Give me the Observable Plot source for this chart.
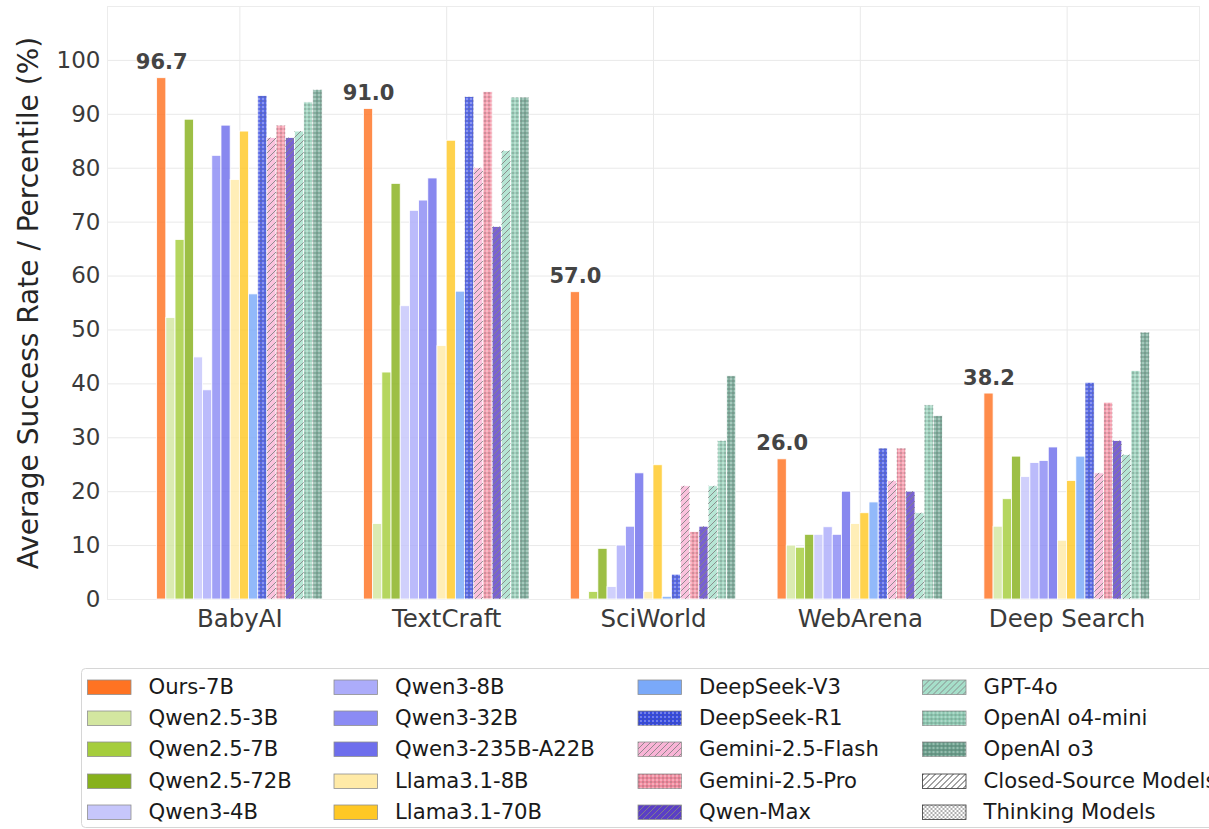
<!DOCTYPE html>
<html>
<head>
<meta charset="utf-8">
<script src="https://cdn.jsdelivr.net/npm/d3@7"></script>
<script src="https://cdn.jsdelivr.net/npm/@observablehq/plot@0.6"></script>
<style>
  html, body { margin: 0; padding: 0; background: #fff; overflow: hidden; }
  body { width: 1209px; height: 829px; position: relative; font-family: "DejaVu Sans", sans-serif; }
  #chart { position: absolute; left: 0; top: 0; }
  #legend { position: absolute; left: 81px; top: 668px; }
</style>
</head>
<body>
<div id="chart"></div>
<div id="legend"></div>
<script>
// Benchmarks (x groups) and models (bars within each group)
const tasks = ["BabyAI", "TextCraft", "SciWorld", "WebArena", "Deep Search"];
const models = [
  "Ours-7B", "Qwen2.5-3B", "Qwen2.5-7B", "Qwen2.5-72B",
  "Qwen3-4B", "Qwen3-8B", "Qwen3-32B", "Qwen3-235B-A22B",
  "Llama3.1-8B", "Llama3.1-70B", "DeepSeek-V3", "DeepSeek-R1",
  "Gemini-2.5-Flash", "Gemini-2.5-Pro", "Qwen-Max",
  "GPT-4o", "OpenAI o4-mini", "OpenAI o3"
];
const colors = [
  "#ff7322", "#d3e6a0", "#a5cd3c", "#87b11c",
  "#c6c6fb", "#acacfa", "#8b8bf4", "#6e6eec",
  "#ffeaa7", "#ffc825", "#7aa9f9", "#3549e0",
  "#f9b4d6", "#f08a9e", "#5b3fc6",
  "#a6dfca", "#8cc8b1", "#689d8a"
];
const closedSource = ["Gemini-2.5-Flash", "Qwen-Max", "GPT-4o"];
const thinking = ["DeepSeek-R1", "Gemini-2.5-Pro", "OpenAI o4-mini", "OpenAI o3"];

// Scores per benchmark, one value per model (same order as `models`)
const babyai     = [96.7, 52.2, 66.7, 89.0, 44.9, 38.8, 82.3, 87.9, 77.8, 86.8, 56.6, 93.4, 85.6, 87.9, 85.6, 86.8, 92.2, 94.5];
const textcraft  = [91.0, 14.0, 42.1, 77.1, 54.4, 72.1, 74.0, 78.1, 47.0, 85.1, 57.1, 93.2, 80.0, 94.1, 69.1, 83.2, 93.1, 93.1];
const sciworld   = [57.0, 0.0, 1.4, 9.4, 2.3, 10.0, 13.5, 23.4, 1.4, 24.9, 0.5, 4.6, 21.0, 12.5, 13.5, 21.0, 29.4, 41.4];
const webarena   = [26.0, 10.0, 9.6, 12.0, 12.0, 13.4, 12.0, 20.0, 14.0, 16.0, 18.0, 28.0, 22.0, 28.0, 20.0, 16.0, 36.0, 34.0];
const deepSearch = [38.2, 13.5, 18.6, 26.5, 22.7, 25.3, 25.7, 28.2, 10.9, 22.0, 26.5, 40.2, 23.4, 36.5, 29.4, 26.8, 42.4, 49.5];

const yTicks = [0, 10, 20, 30, 40, 50, 60, 70, 80, 90, 100];
const yLabel = "Average Success Rate / Percentile (%)";

// Long-format rows; each group spans 0.8 of a unit around its index
const scores = [babyai, textcraft, sciworld, webarena, deepSearch];
const groupWidth = 0.8;
const barW = groupWidth / models.length;
const rows = [];
models.forEach((model, mi) => {
  tasks.forEach((task, ti) => {
    const x1 = ti - groupWidth / 2 + mi * barW;
    rows.push({task, model, value: scores[ti][mi], x1, x2: x1 + barW, xc: x1 + barW / 2});
  });
});
const closedRows = rows.filter(d => closedSource.includes(d.model));
const thinkingRows = rows.filter(d => thinking.includes(d.model));
const oursRows = rows.filter(d => d.model === "Ours-7B");

const chart = Plot.plot({
  width: 1209,
  height: 662,
  marginLeft: 107,
  marginRight: 10,
  marginTop: 6,
  marginBottom: 63,
  style: {fontFamily: "'DejaVu Sans', sans-serif", background: "#fff"},
  x: {domain: [-0.64, tasks.length - 1 + 0.64], axis: null},
  y: {domain: [0, 110], axis: null},
  color: {domain: models, range: colors},
  marks: [
    Plot.gridY(yTicks, {stroke: "#e9e9e9", strokeOpacity: 1, strokeWidth: 1}),
    Plot.gridX(d3.range(tasks.length), {stroke: "#e9e9e9", strokeOpacity: 1, strokeWidth: 1}),
    Plot.frame({stroke: "#ececec"}),
    Plot.rect(rows, {x1: "x1", x2: "x2", y1: 0, y2: "value", fill: "model", fillOpacity: 0.82, stroke: "#fff", strokeWidth: 0.8}),
    Plot.rect(closedRows, {x1: "x1", x2: "x2", y1: 0, y2: "value", fill: "url(#hatch)"}),
    Plot.rect(thinkingRows, {x1: "x1", x2: "x2", y1: 0, y2: "value", fill: "url(#dots)"}),
    Plot.axisY(yTicks, {tickSize: 0, tickPadding: 7, fontSize: 23, color: "#3a3a3a", label: null}),
    Plot.axisX(d3.range(tasks.length), {tickSize: 0, tickPadding: 10, fontSize: 24.5, color: "#3a3a3a", tickFormat: i => tasks[i], label: null}),
    Plot.text(oursRows, {x: "xc", y: "value", text: d => d.value.toFixed(1), dy: -9, lineAnchor: "bottom", fontWeight: "bold", fontSize: 21, fill: "#444"}),
    Plot.text([yLabel], {frameAnchor: "left", rotate: -90, dx: -78, textAnchor: "middle", fontSize: 28, fill: "#262626"})
  ]
});

// Fill patterns for closed-source (hatch) and thinking (dots) models
const defs = d3.select(chart).insert("defs", ":first-child");
function addPatterns(prefix, stroke, dotFill, dotOpacity, lightDots) {
  const h = defs.append("pattern").attr("id", prefix + "hatch")
    .attr("patternUnits", "userSpaceOnUse").attr("width", 6).attr("height", 6);
  h.append("path").attr("d", "M-1,1 l2,-2 M0,6 l6,-6 M5,7 l2,-2")
    .attr("stroke", stroke).attr("stroke-width", 0.9).attr("fill", "none");
  const p = defs.append("pattern").attr("id", prefix + "dots")
    .attr("patternUnits", "userSpaceOnUse").attr("width", 4).attr("height", 4);
  p.append("circle").attr("cx", 1).attr("cy", 1).attr("r", 0.75).attr("fill", dotFill).attr("fill-opacity", dotOpacity);
  if (lightDots) {
    p.append("circle").attr("cx", 3).attr("cy", 3).attr("r", 0.75).attr("fill", "#fff").attr("fill-opacity", 0.75);
  } else {
    p.append("circle").attr("cx", 3).attr("cy", 3).attr("r", 0.75).attr("fill", dotFill).attr("fill-opacity", dotOpacity);
  }
}
addPatterns("", "#858585", "#555", 0.6, true);
addPatterns("legend-", "#333", "#333", 1, false);

document.getElementById("chart").appendChild(chart);

// Legend: 4 columns x 5 rows
const lg = d3.select("#legend").append("svg")
  .attr("width", 1140).attr("height", 161)
  .style("font-family", "'DejaVu Sans', sans-serif");
lg.append("rect").attr("x", 0.5).attr("y", 0.5).attr("width", 1138).attr("height", 159)
  .attr("rx", 4).attr("fill", "#fff").attr("stroke", "#d6d6d6");

const legendItems = models.map((m, i) => ({
  label: m,
  color: colors[i],
  pattern: closedSource.includes(m) ? "hatch" : thinking.includes(m) ? "dots" : null,
  extra: false
})).concat([
  {label: "Closed-Source Models", color: "#fff", pattern: "legend-hatch", extra: true},
  {label: "Thinking Models", color: "#fff", pattern: "legend-dots", extra: true}
]);
const colX = [6.5, 253, 557, 841.5];
const rowY = [19, 50, 81, 113, 144];
legendItems.forEach((d, i) => {
  const col = Math.floor(i / 5), row = i % 5;
  const g = lg.append("g").attr("transform", `translate(${colX[col]},${rowY[row]})`);
  g.append("rect").attr("x", 0).attr("y", -7).attr("width", 43.5).attr("height", 14.5)
    .attr("fill", d.color).attr("stroke", d.extra ? "#333" : "#8f8f8f").attr("stroke-width", 0.8);
  if (d.pattern) {
    g.append("rect").attr("x", 0).attr("y", -7).attr("width", 43.5).attr("height", 14.5)
      .attr("fill", `url(#${d.pattern})`);
  }
  g.append("text").attr("x", 61).attr("y", 0).attr("dy", "0.35em")
    .attr("font-size", 21.2).attr("fill", "#1a1a1a").text(d.label);
});
</script>
</body>
</html>
